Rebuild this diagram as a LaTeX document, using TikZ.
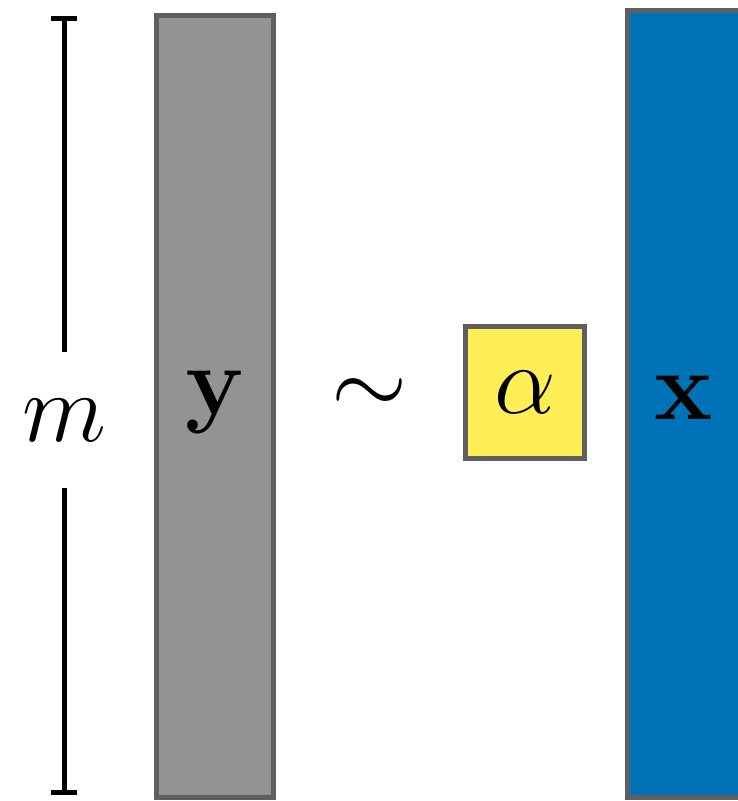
\documentclass[tikz,border=0pt]{standalone}
\usepackage{amsmath}
\usepackage{tikz}
\usetikzlibrary{arrows.meta, positioning, calc}
\definecolor{edgegray}{HTML}{5F5F5F}
\definecolor{vecgray}{HTML}{939393}
\definecolor{vecblue}{HTML}{0073B7}
\definecolor{scalaryellow}{HTML}{FFEE55}
\tikzset{
  vec_box/.style={rectangle, draw=edgegray, line width=0.05cm, inner sep=0pt, minimum width=1.17cm},
  scalar_box/.style={rectangle, draw=edgegray, fill=scalaryellow, line width=0.05cm, inner sep=0pt, minimum width=1.19cm, minimum height=1.32cm},
  sym_text/.style={font=\Huge, scale=1.12, transform shape},
  dim_line/.style={line width=0.05cm, black}
}

\begin{document}
\begin{tikzpicture}
    % 1. Fix the frame
    \useasboundingbox (0,0) rectangle (7.37,8.01);

    % 2. Vectors and scalar
    \node[vec_box, fill=vecgray, minimum height=7.82cm] (vecY) at (2.15,3.945) {};
    \node[vec_box, fill=vecblue, minimum height=7.87cm] (vecX) at (6.86,3.97) {};
    \node[scalar_box] (alpha) at (5.25,4.085) {};

    % 3. Symbols
    \node[sym_text] (labelY) at ($(vecY.center)+(0,0.04)$) {$\mathbf{y}$};
    \node[sym_text] (labelX) at ($(vecX.center)+(-0.02,0.06)$) {$\mathbf{x}$};
    \node[sym_text] (labelAlpha) at (alpha.center) {$\alpha$};
    \node[sym_text] (sim) at (3.70,4.04) {$\sim$};

    % 4. Dimension bracket
    \coordinate (dimTop) at (0.64,7.85);
    \coordinate (dimBottom) at (0.64,0.06);
    \node[sym_text, minimum height=1.2cm, inner sep=0pt] (labelM) at (0.64,3.81) {$m$};
    \draw[dim_line, {Bar[width=0.26cm]}-] (dimTop) -- (labelM.north);
    \draw[dim_line, -{Bar[width=0.26cm]}] (labelM.south) -- (dimBottom);
\end{tikzpicture}
\end{document}
